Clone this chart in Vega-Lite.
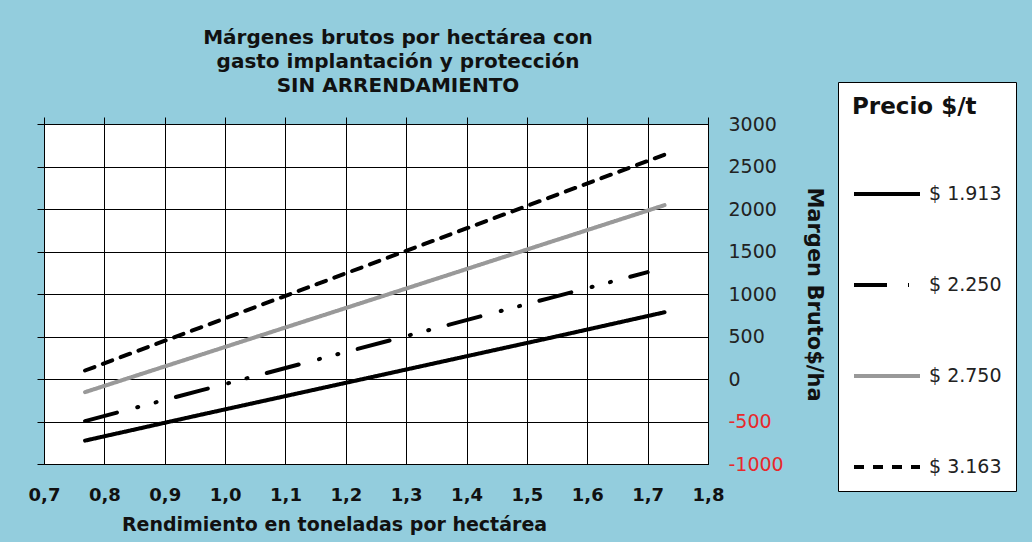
{
  "$schema": "https://vega.github.io/schema/vega-lite/v6.json",
  "width": 664,
  "height": 340,
  "autosize": {"type": "none"},
  "padding": {"left": 44, "top": 124, "right": 324, "bottom": 78},
  "background": "#93CDDD",
  "title": {
    "text": ["Márgenes brutos por hectárea  con", "gasto implantación y protección", "SIN ARRENDAMIENTO"],
    "font": "DejaVu Sans",
    "fontSize": 20,
    "fontWeight": "bold",
    "lineHeight": 24,
    "color": "#111111",
    "anchor": "middle",
    "frame": "group",
    "dx": 22,
    "offset": -14
  },
  "config": {
    "view": {"stroke": "black", "strokeWidth": 1, "fill": "white"},
    "font": "DejaVu Sans"
  },
  "data": {
    "values": [
      {"rendimiento": 0.768, "margen": -725, "precio": "$ 1.913"},
      {"rendimiento": 0.96, "margen": -420, "precio": "$ 1.913"},
      {"rendimiento": 1.152, "margen": -120, "precio": "$ 1.913"},
      {"rendimiento": 1.344, "margen": 180, "precio": "$ 1.913"},
      {"rendimiento": 1.536, "margen": 480, "precio": "$ 1.913"},
      {"rendimiento": 1.728, "margen": 785, "precio": "$ 1.913"},
      {"rendimiento": 0.768, "margen": -495, "precio": "$ 2.250"},
      {"rendimiento": 0.96, "margen": -134, "precio": "$ 2.250"},
      {"rendimiento": 1.152, "margen": 227, "precio": "$ 2.250"},
      {"rendimiento": 1.344, "margen": 588, "precio": "$ 2.250"},
      {"rendimiento": 1.536, "margen": 949, "precio": "$ 2.250"},
      {"rendimiento": 1.7, "margen": 1257, "precio": "$ 2.250"},
      {"rendimiento": 0.768, "margen": -155, "precio": "$ 2.750"},
      {"rendimiento": 0.96, "margen": 285, "precio": "$ 2.750"},
      {"rendimiento": 1.152, "margen": 725, "precio": "$ 2.750"},
      {"rendimiento": 1.344, "margen": 1165, "precio": "$ 2.750"},
      {"rendimiento": 1.536, "margen": 1605, "precio": "$ 2.750"},
      {"rendimiento": 1.728, "margen": 2045, "precio": "$ 2.750"},
      {"rendimiento": 0.768, "margen": 100, "precio": "$ 3.163"},
      {"rendimiento": 0.96, "margen": 608, "precio": "$ 3.163"},
      {"rendimiento": 1.152, "margen": 1116, "precio": "$ 3.163"},
      {"rendimiento": 1.344, "margen": 1624, "precio": "$ 3.163"},
      {"rendimiento": 1.536, "margen": 2131, "precio": "$ 3.163"},
      {"rendimiento": 1.728, "margen": 2639, "precio": "$ 3.163"}
    ]
  },
  "resolve": {"axis": {"x": "independent", "y": "independent"}},
  "layer": [
    {
      "mark": {"type": "point", "opacity": 0},
      "encoding": {
        "x": {
          "field": "rendimiento",
          "type": "quantitative",
          "scale": {"domain": [0.7, 1.8], "nice": false, "zero": false},
          "axis": {
            "orient": "top",
            "values": [0.7, 0.8, 0.9, 1.0, 1.1, 1.2, 1.3, 1.4, 1.5, 1.6, 1.7, 1.8],
            "labels": false,
            "ticks": true,
            "tickSize": 7,
            "tickColor": "black",
            "tickWidth": 1,
            "domain": false,
            "grid": true,
            "gridColor": "black",
            "gridOpacity": 1,
            "gridWidth": 1,
            "title": null
          }
        },
        "y": {
          "field": "margen",
          "type": "quantitative",
          "scale": {"domain": [-1000, 3000], "nice": false, "zero": false},
          "axis": {
            "orient": "left",
            "values": [-1000, -500, 0, 500, 1000, 1500, 2000, 2500, 3000],
            "labels": false,
            "ticks": true,
            "tickSize": 7,
            "tickColor": "black",
            "tickWidth": 1,
            "domain": false,
            "grid": true,
            "gridColor": "black",
            "gridOpacity": 1,
            "gridWidth": 1,
            "title": null
          }
        }
      }
    },
    {
      "mark": {"type": "line", "strokeWidth": 4, "strokeCap": "round"},
      "encoding": {
        "x": {
          "field": "rendimiento",
          "type": "quantitative",
          "axis": {
            "orient": "bottom",
            "values": [0.7, 0.8, 0.9, 1.0, 1.1, 1.2, 1.3, 1.4, 1.5, 1.6, 1.7, 1.8],
            "labelExpr": "replace(format(datum.value, '.1f'), '.', ',')",
            "ticks": false,
            "domain": false,
            "grid": false,
            "labelFlush": false,
            "labelOverlap": false,
            "labelFontSize": 18,
            "labelFontWeight": "bold",
            "labelColor": "#111111",
            "labelPadding": 22,
            "title": "Rendimiento en toneladas por hectárea",
            "titleFontSize": 19,
            "titleFontWeight": "bold",
            "titleColor": "#111111",
            "titlePadding": 11,
            "titleX": 290
          }
        },
        "y": {
          "field": "margen",
          "type": "quantitative",
          "axis": {
            "orient": "right",
            "values": [-1000, -500, 0, 500, 1000, 1500, 2000, 2500, 3000],
            "labelExpr": "datum.value + ''",
            "ticks": false,
            "domain": false,
            "grid": false,
            "labelFlush": false,
            "labelOverlap": false,
            "labelFontSize": 19,
            "labelColor": {"condition": {"test": "datum.value < 0", "value": "#E8282B"}, "value": "#222222"},
            "labelPadding": 20,
            "title": "Margen Bruto$/ha",
            "titleFontSize": 21,
            "titleFontWeight": "bold",
            "titleColor": "#111111",
            "titleAngle": 90,
            "titlePadding": 20
          }
        },
        "color": {
          "field": "precio",
          "type": "nominal",
          "scale": {
            "domain": ["$ 1.913", "$ 2.250", "$ 2.750", "$ 3.163"],
            "range": ["#000000", "#000000", "#999999", "#000000"]
          },
          "legend": {
            "title": "Precio $/t",
            "orient": "none",
            "legendX": 794,
            "legendY": -42,
            "fillColor": "white",
            "strokeColor": "black",
            "padding": 14,
            "titleFontSize": 23,
            "titleFontWeight": "bold",
            "titleColor": "#111111",
            "titlePadding": 40,
            "symbolType": "stroke",
            "symbolSize": 4356,
            "symbolStrokeWidth": 4,
            "labelFontSize": 19,
            "labelColor": "#222222",
            "labelOffset": 7,
            "rowPadding": 46
          }
        },
        "strokeDash": {
          "field": "precio",
          "type": "nominal",
          "scale": {
            "domain": ["$ 1.913", "$ 2.250", "$ 2.750", "$ 3.163"],
            "range": [[1, 0], [33, 21, 1, 18, 1, 20], [1, 0], [10, 9]]
          },
          "legend": {"title": "Precio $/t"}
        }
      }
    }
  ]
}
